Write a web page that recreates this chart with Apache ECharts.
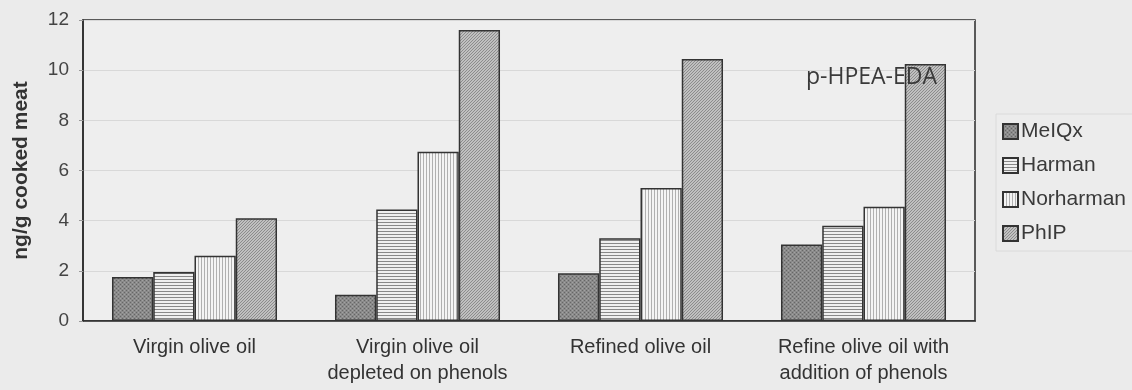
<!DOCTYPE html>
<html><head><meta charset="utf-8">
<script src="https://cdn.jsdelivr.net/npm/echarts@6/dist/echarts.min.js"></script>
<style>html,body{margin:0;padding:0;background:#ebebeb}#c{width:1132px;height:390px}</style>
</head><body><div id="c"></div>
<script>
const categories = ['Virgin olive oil', 'Virgin olive oil\ndepleted on phenols', 'Refined olive oil', 'Refine olive oil with\naddition of phenols'];
const seriesNames = ['MeIQx', 'Harman', 'Norharman', 'PhIP'];
const meiqx = [1.75, 1.05, 1.9, 3.05];
const harman = [1.95, 4.45, 3.3, 3.8];
const norharman = [2.6, 6.75, 5.3, 4.55];
const phip = [4.1, 11.6, 10.45, 10.25];
const yTicks = [0, 2, 4, 6, 8, 10, 12];
const annotation = 'p-HPEA-EDA';

function pattern(kind) {
  const c = document.createElement('canvas');
  const ctx = c.getContext('2d');
  if (kind === 'dots') {
    c.width = 4; c.height = 4;
    ctx.fillStyle = '#8a8a8a'; ctx.fillRect(0, 0, 4, 4);
    ctx.fillStyle = '#666'; ctx.fillRect(0, 0, 1, 1); ctx.fillRect(2, 2, 1, 1);
    ctx.fillStyle = '#a2a2a2'; ctx.fillRect(2, 0, 1, 1); ctx.fillRect(0, 2, 1, 1);
  } else if (kind === 'hlines') {
    c.width = 4; c.height = 3;
    ctx.fillStyle = '#efefef'; ctx.fillRect(0, 0, 4, 3);
    ctx.fillStyle = '#888'; ctx.fillRect(0, 0, 4, 1);
  } else if (kind === 'vlines') {
    c.width = 3; c.height = 4;
    ctx.fillStyle = '#f4f4f4'; ctx.fillRect(0, 0, 3, 4);
    ctx.fillStyle = '#b0b0b0'; ctx.fillRect(0, 0, 1, 4);
  } else {
    c.width = 3; c.height = 3;
    ctx.fillStyle = '#c0c0c0'; ctx.fillRect(0, 0, 3, 3);
    ctx.fillStyle = '#8c8c8c';
    ctx.fillRect(0, 2, 1, 1); ctx.fillRect(1, 1, 1, 1); ctx.fillRect(2, 0, 1, 1);
  }
  return { image: c, repeat: 'repeat' };
}
const fills = [pattern('dots'), pattern('hlines'), pattern('vlines'), pattern('diag')];
const values = [meiqx, harman, norharman, phip];

const chart = echarts.init(document.getElementById('c'), null, { renderer: 'canvas' });
const FONT = '"Liberation Sans", Arial, sans-serif';
chart.setOption({
  backgroundColor: '#ebebeb',
  animation: false,
  textStyle: { fontFamily: FONT },
  title: {
    text: annotation, left: 806, top: 66, padding: 0,
    textStyle: { fontFamily: '"Open Sans", sans-serif', fontWeight: 'normal', fontSize: 23, color: '#3a3a3a' }
  },
  grid: {
    left: 83, right: 157, top: 20, bottom: 69, show: true,
    backgroundColor: '#eeeeee', borderColor: '#2a2a2a', borderWidth: 1.5
  },
  legend: {
    orient: 'vertical', left: 996, top: 114,
    itemWidth: 15, itemHeight: 15, itemGap: 13,
    padding: [7, 8, 7, 6],
    backgroundColor: '#ececec', borderColor: '#dadada', borderWidth: 1,
    textStyle: { fontSize: 21, color: '#3a3a3a', padding: [0, 0, 0, -2] },
    data: seriesNames.map(n => ({ name: n, icon: 'rect' }))
  },
  xAxis: {
    type: 'category', data: categories,
    axisLine: { show: true, lineStyle: { color: '#2a2a2a', width: 1.5 } },
    axisTick: { show: false },
    axisLabel: { fontSize: 20, color: '#333', lineHeight: 26, margin: 13, interval: 0 }
  },
  yAxis: {
    type: 'value', min: 0, max: 12, interval: 2,
    name: 'ng/g cooked meat', nameLocation: 'middle', nameGap: 51,
    nameTextStyle: { fontSize: 21, fontWeight: 'bold', color: '#333' },
    axisLine: { show: true, lineStyle: { color: '#2a2a2a', width: 1.5 } },
    axisTick: { show: true, length: 4, lineStyle: { color: '#999' } },
    axisLabel: { fontSize: 19, color: '#444', margin: 14,
      formatter: v => yTicks.includes(v) ? String(v) : '' },
    splitLine: { show: true, lineStyle: { color: '#d8d8d8', width: 1 } }
  },
  series: seriesNames.map((n, i) => ({
    name: n, type: 'bar', data: values[i],
    barGap: '0%', barCategoryGap: '26%',
    itemStyle: { color: fills[i], borderColor: '#333', borderWidth: 1.5 }
  }))
});
</script></body></html>
